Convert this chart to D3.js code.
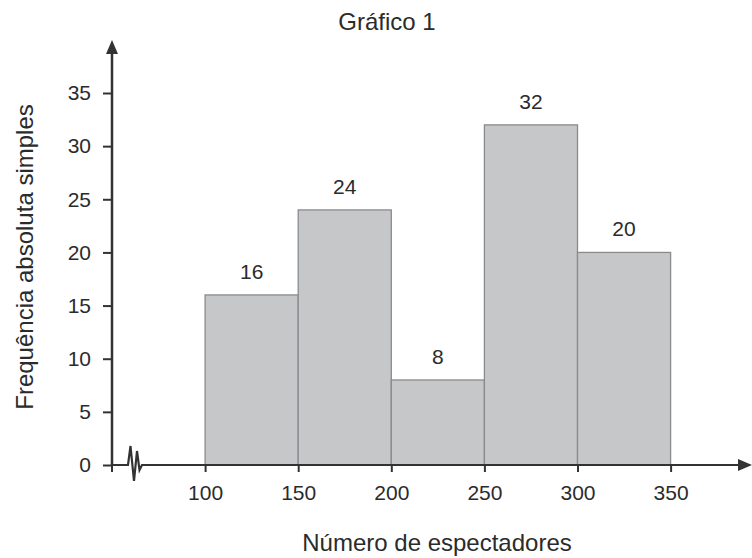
<!DOCTYPE html>
<html>
<head>
<meta charset="utf-8">
<script src="https://cdn.jsdelivr.net/npm/d3@7"></script>
<style>
  body { margin: 0; background: #fff; }
  text { font-family: "Liberation Sans", Arial, sans-serif; fill: #2b2b2b; }
</style>
</head>
<body>
<div class="chart"></div>
<script>
const binStarts = [100, 150, 200, 250, 300];
const binWidth = 50;
const counts = [16, 24, 8, 32, 20];
const xTicks = [100, 150, 200, 250, 300, 350];
const yTicks = [0, 5, 10, 15, 20, 25, 30, 35];

const W = 752, H = 558;
const margin = {top: 42, left: 112, bottom: 93, right: 2};
const width = W - margin.left - margin.right;

const svg = d3.select('.chart')
    .append('svg')
    .attr('width', W)
    .attr('height', H);

const g = svg.append('g')
    .attr('transform', 'translate(' + margin.left + ',' + margin.top + ')');

// origin of the x axis sits at 50 (hidden by the break)
const xScale = d3.scaleLinear()
    .domain([50, 50 + width / 1.862])
    .range([0, width]);

// 0 on the axis line, 35 at the top tick
const yScale = d3.scaleLinear()
    .domain([0, 35])
    .range([423, 51]);

const axisColor = '#333';
const fs = '21px';

// bars
g.selectAll('rect.bar')
    .data(counts)
    .enter()
    .append('rect')
    .attr('class', 'bar')
    .attr('x', (d, i) => xScale(binStarts[i]))
    .attr('y', d => yScale(d))
    .attr('width', (d, i) => xScale(binStarts[i] + binWidth) - xScale(binStarts[i]))
    .attr('height', d => yScale(0) - yScale(d))
    .attr('fill', '#c6c7c9')
    .attr('stroke', '#8a8b8d')
    .attr('stroke-width', 1.3);

// bar labels
g.selectAll('text.lbl')
    .data(counts)
    .enter()
    .append('text')
    .attr('class', 'lbl')
    .attr('x', (d, i) => xScale(binStarts[i] + binWidth / 2))
    .attr('y', d => yScale(d) - 16)
    .attr('text-anchor', 'middle')
    .style('font-size', fs)
    .text(d => d);

// y axis
const yAxis = d3.axisLeft(yScale)
    .tickValues(yTicks)
    .tickSize(9)
    .tickPadding(12)
    .tickFormat(d3.format('d'));

const yg = g.append('g').call(yAxis);
yg.select('.domain').remove();
yg.selectAll('line').attr('stroke', axisColor).attr('stroke-width', 2);
yg.selectAll('text').style('font-size', fs).attr('fill', '#2b2b2b');

g.append('line')
    .attr('x1', 0).attr('x2', 0)
    .attr('y1', yScale(0)).attr('y2', 8)
    .attr('stroke', axisColor).attr('stroke-width', 2.5);
g.append('path')
    .attr('d', 'M-6,12 L0,-2 L6,12 Z')
    .attr('fill', axisColor);

// x axis
const xAxis = d3.axisBottom(xScale)
    .tickValues(xTicks)
    .tickSize(7)
    .tickPadding(13);

const xg = g.append('g')
    .attr('transform', 'translate(0,' + yScale(0) + ')')
    .call(xAxis);
xg.select('.domain').remove();
xg.selectAll('line').attr('stroke', axisColor).attr('stroke-width', 2);
xg.selectAll('text').style('font-size', fs).attr('fill', '#2b2b2b');

// tick at the origin (no label)
xg.append('line')
    .attr('x1', 0).attr('x2', 0).attr('y1', 0).attr('y2', 7)
    .attr('stroke', axisColor).attr('stroke-width', 2);

// axis line with break symbol
const y0 = yScale(0);
g.append('path')
    .attr('d', 'M0,' + y0 + ' L16,' + y0 +
        ' L18.5,' + (y0 - 19) +
        ' L22,' + (y0 + 16) +
        ' L25,' + (y0 - 14) +
        ' L27.5,' + (y0 + 5) +
        ' L30,' + y0 +
        ' L' + (width - 8) + ',' + y0)
    .attr('fill', 'none')
    .attr('stroke', axisColor)
    .attr('stroke-width', 2.2)
    .attr('stroke-linejoin', 'miter');
g.append('path')
    .attr('d', 'M' + (width - 12) + ',' + (y0 - 6) + ' L' + (width + 2) + ',' + y0 + ' L' + (width - 12) + ',' + (y0 + 6) + ' Z')
    .attr('fill', axisColor);

// titles
svg.append('text')
    .attr('x', 387).attr('y', 30)
    .attr('text-anchor', 'middle')
    .style('font-size', '24px')
    .text('Gráfico 1');

svg.append('text')
    .attr('x', 437).attr('y', 551)
    .attr('text-anchor', 'middle')
    .style('font-size', '24px')
    .text('Número de espectadores');

svg.append('text')
    .attr('transform', 'translate(33,257) rotate(-90)')
    .attr('text-anchor', 'middle')
    .style('font-size', '24px')
    .text('Frequência absoluta simples');
</script>
</body>
</html>
